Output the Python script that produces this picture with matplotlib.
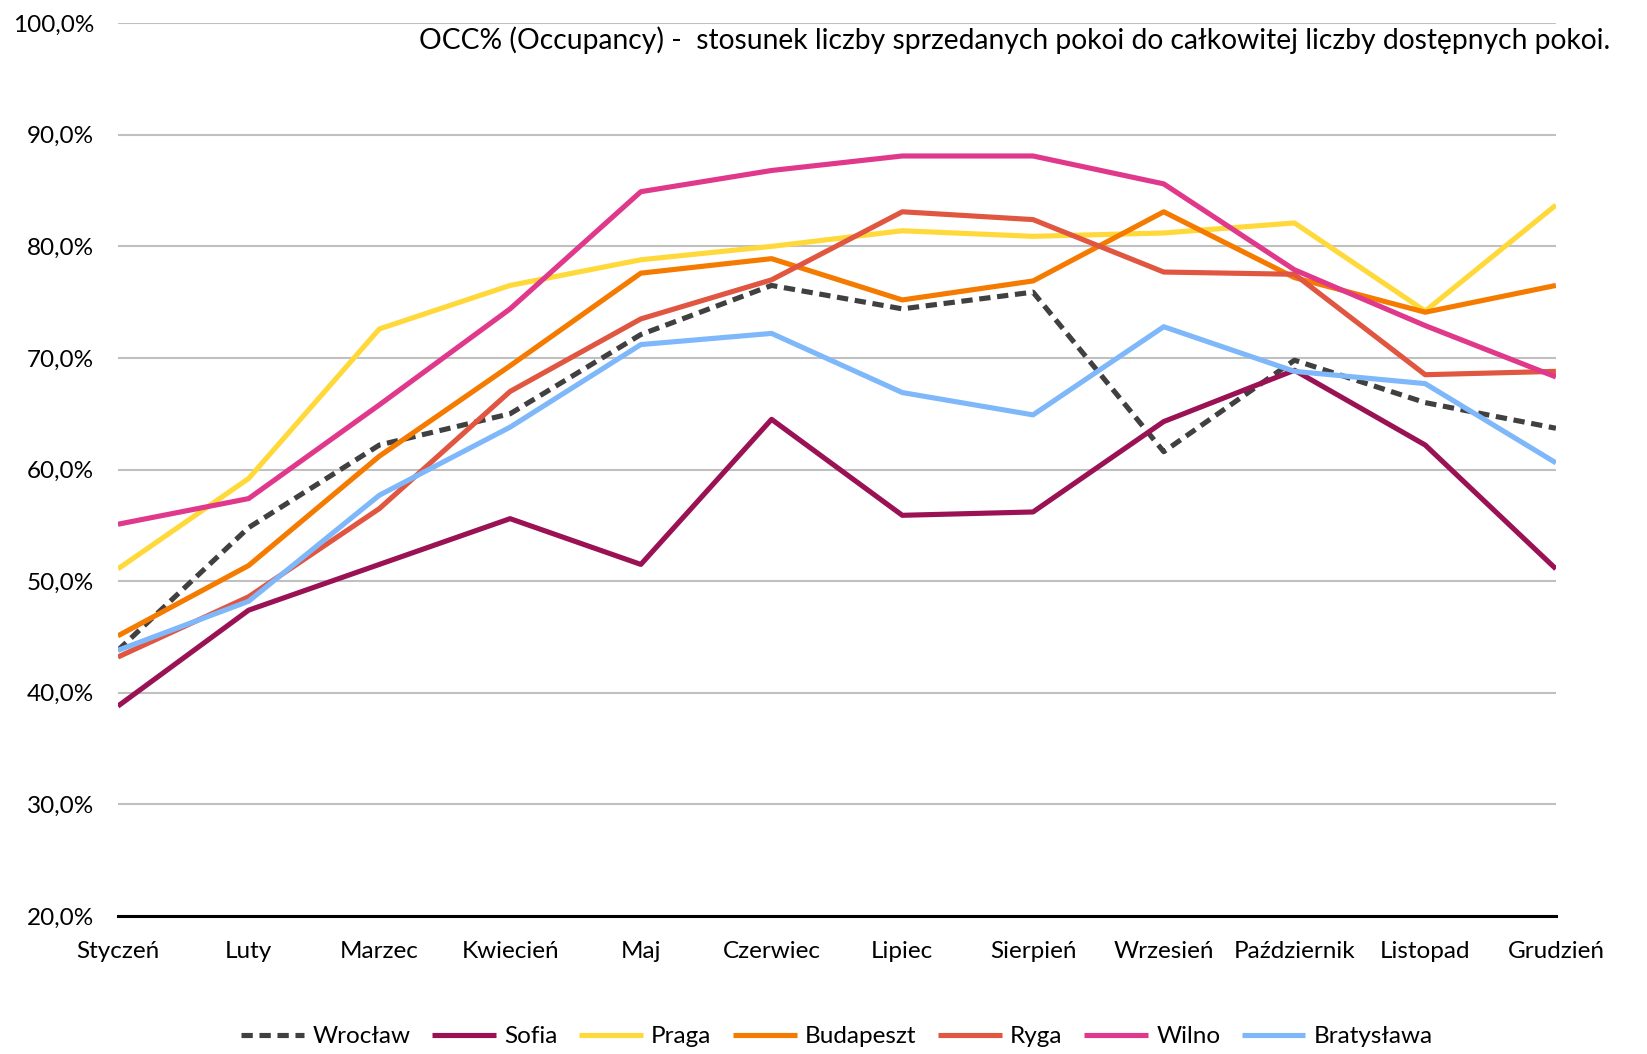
import matplotlib.pyplot as plt
from matplotlib.ticker import FuncFormatter

plt.rcParams['font.family'] = ['Lato', 'DejaVu Sans']

months = ['Styczeń', 'Luty', 'Marzec', 'Kwiecień', 'Maj', 'Czerwiec', 'Lipiec',
          'Sierpień', 'Wrzesień', 'Październik', 'Listopad', 'Grudzień']

wroclaw = [43.8, 54.8, 62.2, 65.0, 72.1, 76.5, 74.4, 75.9, 61.6, 69.8, 66.0, 63.7]
sofia = [38.8, 47.4, 51.5, 55.6, 51.5, 64.5, 55.9, 56.2, 64.3, 68.9, 62.2, 51.1]
praga = [51.1, 59.2, 72.6, 76.5, 78.8, 80.0, 81.4, 80.9, 81.2, 82.1, 74.2, 83.7]
budapeszt = [45.1, 51.4, 61.2, 69.3, 77.6, 78.9, 75.2, 76.9, 83.1, 77.2, 74.1, 76.5]
ryga = [43.2, 48.6, 56.5, 67.0, 73.5, 77.0, 83.1, 82.4, 77.7, 77.5, 68.5, 68.8]
wilno = [55.1, 57.4, 65.8, 74.4, 84.9, 86.8, 88.1, 88.1, 85.6, 77.9, 72.9, 68.3]
bratyslawa = [43.8, 48.2, 57.7, 63.8, 71.2, 72.2, 66.9, 64.9, 72.8, 68.8, 67.7, 60.6]

series = [
    ('Wrocław', wroclaw, '#404040', (0, (2.2, 1.3))),
    ('Sofia', sofia, '#9A1254', '-'),
    ('Praga', praga, '#FFD93A', '-'),
    ('Budapeszt', budapeszt, '#F57A00', '-'),
    ('Ryga', ryga, '#E05640', '-'),
    ('Wilno', wilno, '#E0388A', '-'),
    ('Bratysława', bratyslawa, '#7FB8FA', '-'),
]

fig = plt.figure(figsize=(16.47, 10.54), dpi=100)
ax = fig.add_axes([0.0716, 0.131, 0.8731, 0.847])

x = list(range(len(months)))
for name, vals, col, ls in series:
    ax.plot(x, vals, color=col, linestyle=ls, linewidth=3.7, label=name,
            solid_capstyle='butt', dash_capstyle='butt')

ax.set_xlim(0, len(months) - 1)
ax.set_ylim(20, 100)
ax.set_yticks(range(20, 101, 10))
ax.yaxis.set_major_formatter(FuncFormatter(lambda v, p: f'{v:.1f}%'.replace('.', ',')))
ax.set_xticks(x)
ax.set_xticklabels(months)
ax.tick_params(length=0, labelsize=17.5, colors='black')
ax.tick_params(axis='x', pad=18)
ax.tick_params(axis='y', pad=17)

ax.yaxis.grid(True, color='#C0C0C0', linewidth=1.5)
ax.set_axisbelow(True)
for s in ['top', 'right', 'left']:
    ax.spines[s].set_visible(False)
ax.spines['bottom'].set_linewidth(2.2)
ax.spines['bottom'].set_color('black')

fig.text(0.9775, 0.962, 'OCC% (Occupancy) -  stosunek liczby sprzedanych pokoi do całkowitej liczby dostępnych pokoi.',
         ha='right', va='center', fontsize=20.3)

ax.legend(loc='upper center', bbox_to_anchor=(0.5, -0.118), ncol=7, frameon=False,
          fontsize=17.5, handlelength=2.6, columnspacing=0.9, handletextpad=0.35,
          borderaxespad=0, borderpad=0.2)

plt.savefig('out.png', dpi=100)
